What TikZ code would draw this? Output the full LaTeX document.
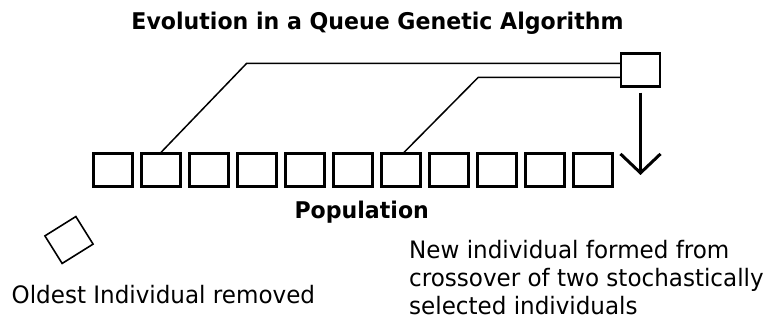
\documentclass[tikz,border=0pt]{standalone}
\usepackage{fontspec}
\setmainfont{DejaVu Sans}
\newfontfamily\labfont[FakeStretch=0.96]{DejaVu Sans}
\usetikzlibrary{arrows.meta}
\begin{document}
\begin{tikzpicture}[x=1pt,y=-1pt,
  cell/.style={draw, line width=2.2pt, minimum width=39pt, minimum height=33pt, inner sep=0pt},
  link/.style={line width=1.5pt},
  push/.style={line width=3pt, -{Straight Barb[length=19pt,width=40pt]}},
  boldlab/.style={font={\labfont\fontsize{23}{27}\selectfont\bfseries}, inner sep=0pt},
  lab/.style={font={\labfont\fontsize{24}{28}\selectfont}, inner sep=0pt}]
\useasboundingbox (0,0) rectangle (768,328);
% title
\node[boldlab, anchor=base] (title) at (377.5,29.3) {Evolution in a Queue Genetic Algorithm};
% population
\foreach \i in {1,...,11}
  \node[cell] (p\i) at ({113+48*(\i-1)},170) {};
\node[boldlab, anchor=base] (poplab) at (361.7,218.3) {Population};
% new individual
\node[cell] (new) at (640.5,70) {};
\coordinate (k1) at (246.7,63.3);
\coordinate (k2) at (478.3,77.3);
\draw[link] (p2.north) -- (k1) -- (k1 -| new.west);
\draw[link] ([xshift=3pt]p7.north) -- (k2) -- (k2 -| new.west);
\coordinate (aend) at (640.5,175);
\draw[push] ([yshift=-5pt]new.south) -- (aend);
% removed individual
\node[draw, line width=1.6pt, minimum width=36.5pt, minimum height=32.5pt, inner sep=0pt, rotate=32] (old) at (69,240) {};
\node[lab, anchor=base west] (oldlab) at (11.5,303.3) {Oldest Individual removed};
\node[lab, anchor=base west, align=left] (newlab) at (409,314.3) {New individual formed from\\crossover of two stochastically\\selected individuals};
\end{tikzpicture}
\end{document}
